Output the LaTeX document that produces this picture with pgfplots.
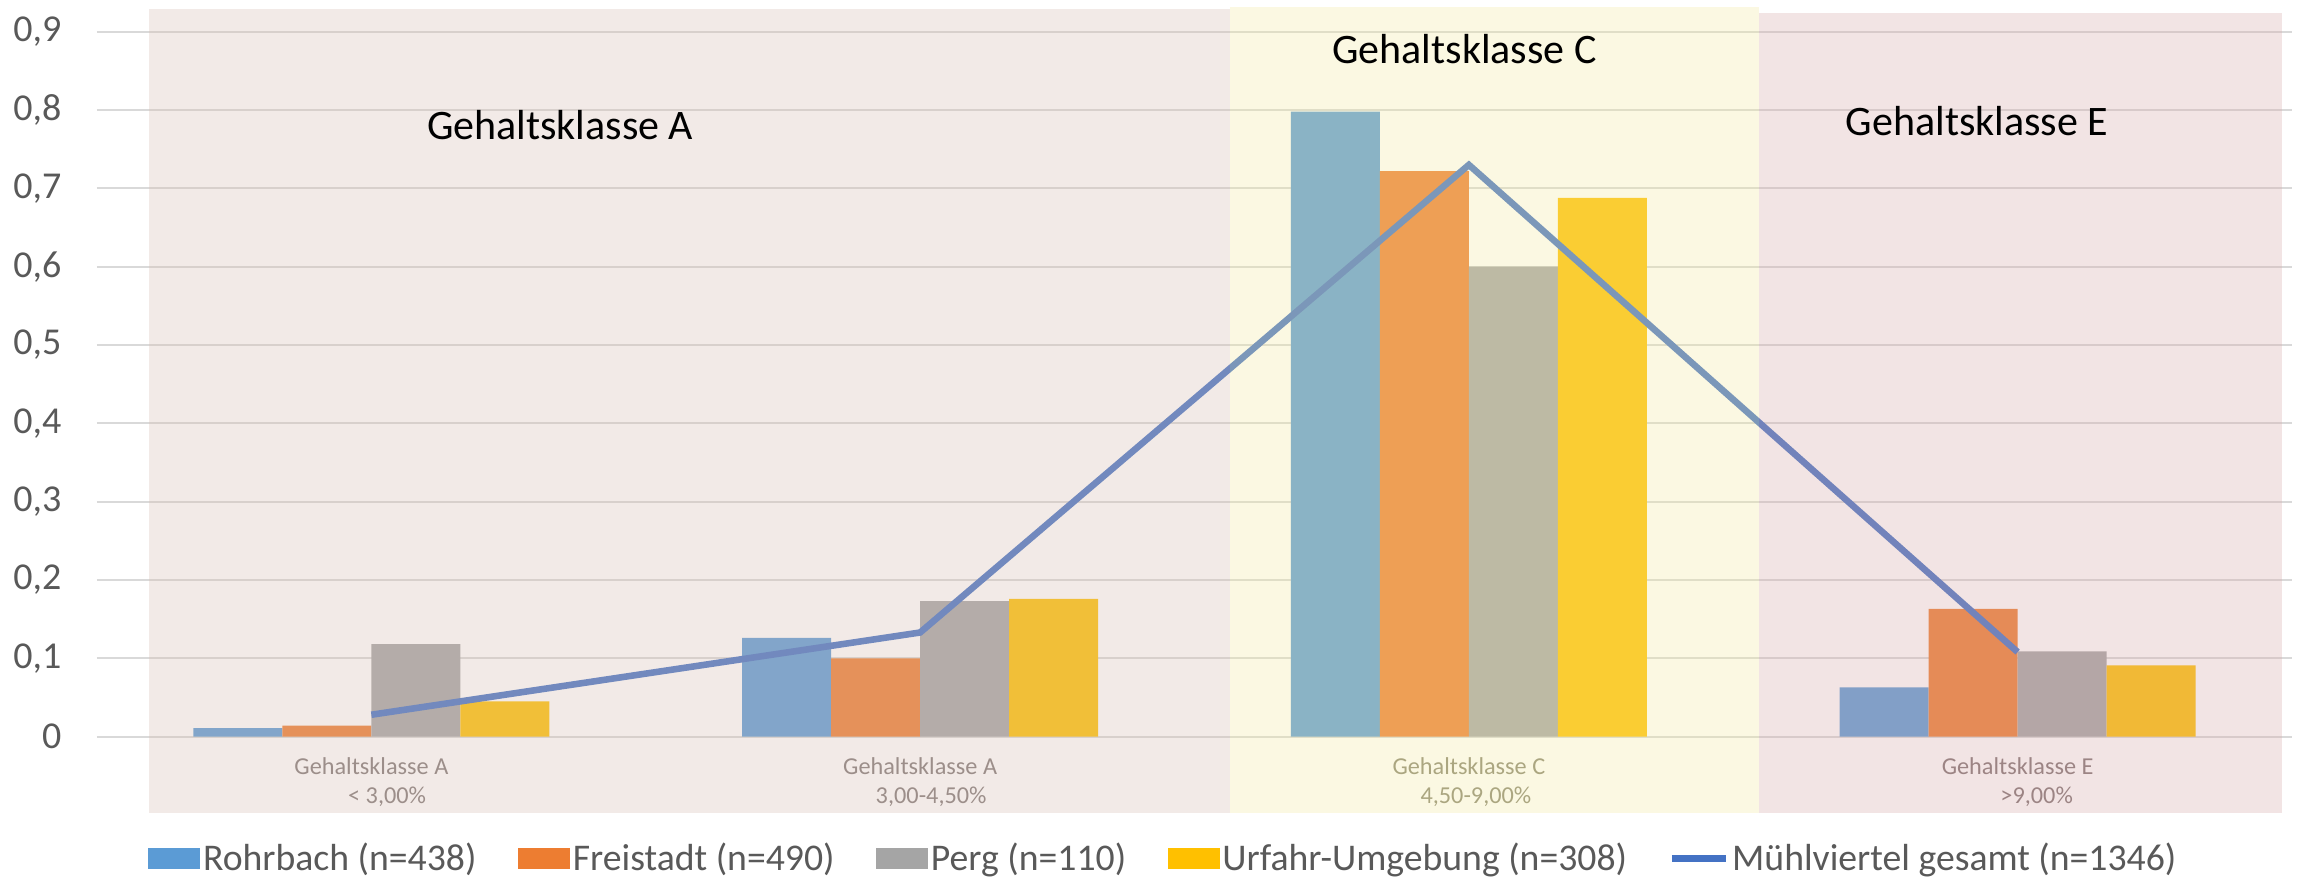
\documentclass[border=0pt]{standalone}
\usepackage{fontspec}
\setmainfont{Carlito}
\usepackage{pgfplots}
\pgfplotsset{compat=1.18}

\definecolor{rohr}{HTML}{5B9BD5}
\definecolor{frei}{HTML}{ED7D31}
\definecolor{perg}{HTML}{A5A5A5}
\definecolor{urf}{HTML}{FFC000}
\definecolor{muehl}{HTML}{4472C4}
\definecolor{gridc}{HTML}{D9D9D9}
\definecolor{txt}{HTML}{595959}
\definecolor{ovA}{RGB}{214,189,179}
\definecolor{ovC}{RGB}{242,233,163}
\definecolor{ovE}{RGB}{214,170,170}
\definecolor{labA}{HTML}{817977}
\definecolor{labC}{HTML}{8A8771}
\definecolor{labE}{HTML}{817373}

\pgfplotsset{
  barkey/.style={legend image code/.code={\fill[##1] (0pt,-3.67pt) rectangle (18.2pt,3.67pt);}},
  linekey/.style={legend image code/.code={\draw[##1] (0pt,0pt) -- (19pt,0pt);}},
}

\begin{document}
\begin{tikzpicture}
\begin{axis}[
    name=ax,
    scale only axis, width=768.25pt, height=246.75pt,
    xmin=-0.5, xmax=3.5, ymin=0, ymax=0.9,
    clip=false,
    axis line style={draw=none},
    major tick length=0pt,
    ymajorgrids, grid style={color=gridc, line width=0.75pt},
    ytick={0,0.1,0.2,0.3,0.4,0.5,0.6,0.7,0.8,0.9},
    yticklabels={0,{0,1},{0,2},{0,3},{0,4},{0,5},{0,6},{0,7},{0,8},{0,9}},
    yticklabel style={font=\fontsize{13.3}{15}\selectfont, text=txt, inner sep=0pt, xshift=-12.25pt},
    xtick={0,1,2,3},
    xticklabels={
      {\textcolor{labA}{Gehaltsklasse A}\\\textcolor{labA}{\hspace*{11pt}< 3,00\%}},
      {\textcolor{labA}{Gehaltsklasse A}\\\textcolor{labA}{\hspace*{7.7pt}3,00-4,50\%}},
      {\textcolor{labC}{Gehaltsklasse C}\\\textcolor{labC}{\hspace*{4.9pt}4,50-9,00\%}},
      {\textcolor{labE}{Gehaltsklasse E}\\\textcolor{labE}{\hspace*{13.3pt}>9,00\%}}},
    xticklabel style={font=\fontsize{8.5}{10.15}\selectfont, align=center, anchor=base, inner sep=0pt, yshift=-23.55pt},
    legend style={at={(0.486,-0.173)}, anchor=center, draw=none, fill=none,
      legend columns=5, font=\fontsize{13.2}{15}\selectfont, text=txt,
      nodes={inner sep=1pt},
      /tikz/every even column/.append style={column sep=13.5pt}},
  ]
  % bars
  \addplot[ybar, barkey, bar width=0.1622, bar shift=-0.2433, fill=rohr, draw=none]
    coordinates {(0,0.011) (1,0.126) (2,0.798) (3,0.063)};
  \addplot[ybar, barkey, bar width=0.1622, bar shift=-0.0811, fill=frei, draw=none]
    coordinates {(0,0.014) (1,0.100) (2,0.722) (3,0.163)};
  \addplot[ybar, barkey, bar width=0.1622, bar shift=0.0811, fill=perg, draw=none]
    coordinates {(0,0.118) (1,0.173) (2,0.600) (3,0.109)};
  \addplot[ybar, barkey, bar width=0.1622, bar shift=0.2433, fill=urf, draw=none]
    coordinates {(0,0.045) (1,0.176) (2,0.688) (3,0.091)};
  % overall line
  \addplot[linekey, color=muehl, line width=2.3pt, mark=none]
    coordinates {(0,0.028) (1,0.133) (2,0.730) (3,0.108)};
  \legend{Rohrbach (n=438), Freistadt (n=490), Perg (n=110), Urfahr-Umgebung (n=308), Mühlviertel gesamt (n=1346)}

  % shaded class regions laid over the chart
  \addplot[forget plot, fill=ovA, fill opacity=0.317, draw=none]
    coordinates {(-0.4046,-0.0974) (1.565,-0.0974) (1.565,0.929) (-0.4046,0.929)} -- cycle;
  \addplot[forget plot, fill=ovC, fill opacity=0.317, draw=none]
    coordinates {(1.565,-0.0974) (2.529,-0.0974) (2.529,0.932) (1.565,0.932)} -- cycle;
  \addplot[forget plot, fill=ovE, fill opacity=0.317, draw=none]
    coordinates {(2.529,-0.0974) (3.481,-0.0974) (3.481,0.924) (2.529,0.924)} -- cycle;

  \node[font=\fontsize{14.7}{17}\selectfont, anchor=base] at (axis cs:0.344,0.762) {Gehaltsklasse A};
  \node[font=\fontsize{14.7}{17}\selectfont, anchor=base] at (axis cs:1.992,0.860) {Gehaltsklasse C};
  \node[font=\fontsize{14.7}{17}\selectfont, anchor=base] at (axis cs:2.926,0.768) {Gehaltsklasse E};
\end{axis}
\pgfresetboundingbox
\path ([shift={(-33.95pt,-49.1pt)}]ax.south west) rectangle ([shift={(3.85pt,11.1pt)}]ax.north east);
\end{tikzpicture}
\end{document}
